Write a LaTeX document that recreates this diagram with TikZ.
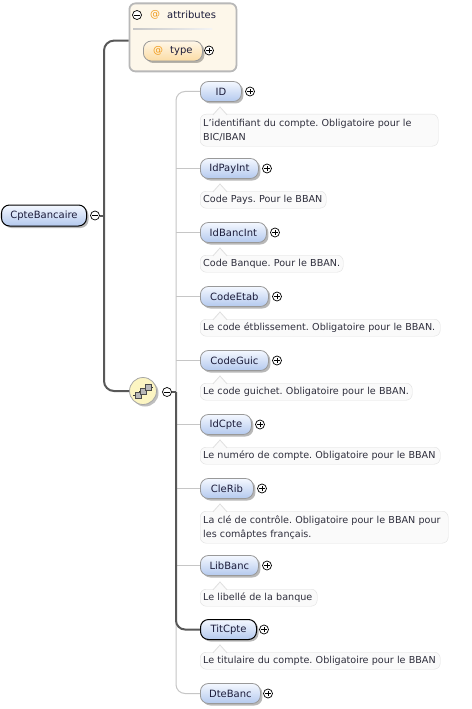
\documentclass[tikz,border=0pt]{standalone}
\usepackage{fontspec}
\setmainfont{DejaVu Sans}
\usetikzlibrary{shadows}
\frenchspacing
\definecolor{reqc}{HTML}{585858}
\definecolor{optc}{HTML}{C6C6C6}
\definecolor{elTop}{HTML}{F4F8FF}
\definecolor{elBot}{HTML}{B4C9EE}
\definecolor{docfill}{HTML}{FAFAFA}
\definecolor{docline}{HTML}{E0E0E0}
\definecolor{atfill}{HTML}{FDF7EA}
\definecolor{atline}{HTML}{B8B8B8}
\definecolor{atsym}{HTML}{F09A1A}
\definecolor{atTop}{HTML}{FFF7E8}
\definecolor{atBot}{HTML}{FBDCA4}
\definecolor{txt}{HTML}{1C1C3A}
\definecolor{doctxt}{HTML}{2E2E3C}
\definecolor{seqfill}{HTML}{FCF5C2}
\tikzset{
  elem/.style={draw=gray!80, line width=0.8bp, rounded corners=8bp,
    top color=elTop, bottom color=elBot, anchor=west, minimum height=20bp,
    inner xsep=6bp, inner ysep=0pt, text=txt,
    font=\fontsize{10bp}{12bp}\selectfont,
    drop shadow={shadow xshift=2bp, shadow yshift=-2bp, fill=black, opacity=0.28}},
  reqelem/.style={elem, draw=black, line width=1bp},
  docbox/.style={draw=docline, fill=docfill, rounded corners=6bp, anchor=north west,
    align=left, inner xsep=3bp, inner ysep=1bp, text=doctxt,
    font=\fontsize{9.6bp}{14bp}\selectfont},
  pm/.style={circle, draw=black, fill=white, line width=0.7bp, minimum size=9bp, inner sep=0pt},
  minus/.style={pm, path picture={\draw[line width=0.8bp]
      ([xshift=-2.6bp]path picture bounding box.center) -- ([xshift=2.6bp]path picture bounding box.center);}},
  plus/.style={pm, path picture={\draw[line width=0.8bp]
      ([xshift=-2.6bp]path picture bounding box.center) -- ([xshift=2.6bp]path picture bounding box.center)
      ([yshift=-2.6bp]path picture bounding box.center) -- ([yshift=2.6bp]path picture bounding box.center);}},
  reqline/.style={draw=reqc, line width=2bp},
  optline/.style={draw=optc, line width=1bp},
  ptr/.style={draw=docline, fill=docfill, line width=0.8bp},
}
\newcommand\docptr[1]{%
  \draw[ptr] ([xshift=13bp,yshift=-0.8bp]#1.north west) -- ([xshift=20bp,yshift=7bp]#1.north west)
    -- ([xshift=27bp,yshift=-0.8bp]#1.north west);}
\begin{document}
\begin{tikzpicture}[x=1bp,y=-1bp]
\useasboundingbox[fill=white] (0,0) rectangle (472,709);

% ---------- attributes box ----------
\node[draw=atline, fill=atfill, line width=1.8bp, rounded corners=6bp,
  minimum width=107bp, minimum height=68bp, anchor=north west, inner sep=0pt] (attrbox) at (128.5,2.5) {};
\node[minus] (amin) at (137,15) {};
\node[text=atsym, font=\fontsize{10bp}{12bp}\selectfont, inner sep=0pt] (aat) at (155,14.5) {@};
\node[anchor=west, text=txt, font=\fontsize{10bp}{12bp}\selectfont, inner sep=0pt] (alab) at (167,15) {attributes};
\shade[left color=gray!45, right color=gray!8] (133,28.3) rectangle (212,30);
\node[elem, top color=atTop, bottom color=atBot, minimum width=59bp] (type) at (143,51)
  {\textcolor{atsym}{@}\hspace{7bp}type};
\node[plus] (tplus) at (209,50.5) {};

% ---------- root ----------
\node[reqelem, minimum width=85bp, minimum height=21bp] (root) at (1,215.5) {CpteBancaire};
\node[minus] (rmin) at (95,215.5) {};

% ---------- sequence ----------
\node[circle, draw=gray!70, line width=0.8bp, fill=seqfill, minimum size=27bp, inner sep=0pt,
  drop shadow={shadow xshift=2bp, shadow yshift=-2bp, fill=black, opacity=0.25}] (seq) at (143,391) {};
\begin{scope}[shift={(seq.center)}, x=1bp, y=1bp]
  \draw[line width=0.9bp, black!80] (-10,-4) -- (-4,-4) (-4,-4) -- (-4,0) -- (2,0) (2,0) -- (2,4) -- (10,4);
  \draw[black!70, fill=gray!55, line width=0.5bp] (-7.5,-7) rectangle (-1.5,-1);
  \draw[black!70, fill=gray!55, line width=0.5bp] (-2.5,-3) rectangle (3.5,3);
  \draw[black!70, fill=gray!55, line width=0.5bp] (2.5,1) rectangle (8.5,7);
\end{scope}
\node[minus] (smin) at (167,392) {};

% ---------- children ----------
\node[elem, minimum width=41bp] (ID) at (200,91.5) {ID\hspace{14bp}};
\node[plus] at (250,91.5) {};
\node[docbox, text width=232bp, minimum height=32bp] (dID) at (200,114)
  {\mbox{L'identifiant du compte. Obligatoire pour le}\\\mbox{BIC/IBAN}};
\docptr{dID}

\node[elem, minimum width=58bp] (IdPayInt) at (200,168.5) {IdPayInt};
\node[plus] at (267,168.5) {};
\node[docbox, text width=120bp, minimum height=17bp] (dIdPayInt) at (200,191) {\mbox{Code Pays. Pour le BBAN}};
\docptr{dIdPayInt}

\node[elem, minimum width=66bp] (IdBancInt) at (200,232.5) {IdBancInt};
\node[plus] at (275,232.5) {};
\node[docbox, text width=137bp, minimum height=17bp] (dIdBancInt) at (200,255) {\mbox{Code Banque. Pour le BBAN.}};
\docptr{dIdBancInt}

\node[elem, minimum width=68bp] (CodeEtab) at (200,296.5) {CodeEtab};
\node[plus] at (277,296.5) {};
\node[docbox, text width=234bp, minimum height=17bp] (dCodeEtab) at (200,319) {\mbox{Le code étblissement. Obligatoire pour le BBAN.}};
\docptr{dCodeEtab}

\node[elem, minimum width=68bp] (CodeGuic) at (200,360.5) {CodeGuic};
\node[plus] at (277,360.5) {};
\node[docbox, text width=206bp, minimum height=17bp] (dCodeGuic) at (200,383) {\mbox{Le code guichet. Obligatoire pour le BBAN.}};
\docptr{dCodeGuic}

\node[elem, minimum width=51bp] (IdCpte) at (200,424.5) {IdCpte};
\node[plus] at (260,424.5) {};
\node[docbox, text width=234bp, minimum height=17bp] (dIdCpte) at (200,447) {\mbox{Le numéro de compte. Obligatoire pour le BBAN}};
\docptr{dIdCpte}

\node[elem, minimum width=53bp] (CleRib) at (200,488.5) {CleRib};
\node[plus] at (262,488.5) {};
\node[docbox, text width=242bp, minimum height=32bp] (dCleRib) at (200,511)
  {\mbox{La clé de contrôle. Obligatoire pour le BBAN pour}\\\mbox{les comâptes français.}};
\docptr{dCleRib}

\node[elem, minimum width=58bp] (LibBanc) at (200,565.5) {LibBanc};
\node[plus] at (267,565.5) {};
\node[docbox, text width=111bp, minimum height=17bp] (dLibBanc) at (200,589) {\mbox{Le libellé de la banque}};
\docptr{dLibBanc}

\node[reqelem, minimum width=56bp] (TitCpte) at (200,629.5) {TitCpte};
\node[plus] at (264,629.5) {};
\node[docbox, text width=234bp, minimum height=17bp] (dTitCpte) at (200,652) {\mbox{Le titulaire du compte. Obligatoire pour le BBAN}};
\docptr{dTitCpte}

\node[elem, minimum width=60bp] (DteBanc) at (200,693.5) {DteBanc};
\node[plus] at (268,693.5) {};

% ---------- connectors ----------
\coordinate (sp) at (176,0);
\coordinate (tr) at (104,0);
\draw[optline, rounded corners=9bp] (ID.west) -- (ID.west -| sp) |- (DteBanc.west);
\foreach \n in {IdPayInt,IdBancInt,CodeEtab,CodeGuic,IdCpte,CleRib,LibBanc}
  \draw[optline] (\n.west) -- (\n.west -| sp);
\draw[reqline] (smin.east) -- (smin.east -| sp);
\draw[reqline, rounded corners=9bp] (smin.east -| sp) |- (TitCpte.west);
\draw[reqline, rounded corners=10bp] (attrbox.west |- type.north) -- (tr |- type.north) |- (seq.west);
\draw[reqline] (rmin.east) -- (rmin.east -| tr);
\end{tikzpicture}
\end{document}
